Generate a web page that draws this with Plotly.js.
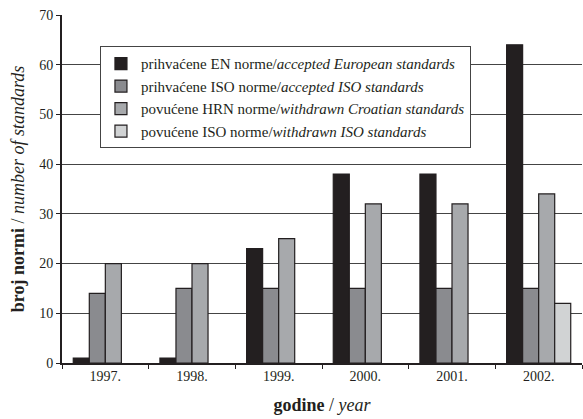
<!DOCTYPE html>
<html>
<head>
<meta charset="utf-8">
<script src="https://cdn.plot.ly/plotly-3.0.1.min.js"></script>
<style>html,body{margin:0;padding:0;background:#fff;}#chart{width:583px;height:419px;}</style>
</head>
<body>
<div id="chart"></div>
<script>
const years = ['1997.', '1998.', '1999.', '2000.', '2001.', '2002.'];
const acceptedEN = [1, 1, 23, 38, 38, 64];
const acceptedISO = [14, 15, 15, 15, 15, 15];
const withdrawnHRN = [20, 20, 25, 32, 32, 34];
const withdrawnISO = [0, 0, 0, 0, 0, 12];
const seriesNames = [
  'prihvaćene EN norme/<i>accepted European standards</i>',
  'prihvaćene ISO norme/<i>accepted ISO standards</i>',
  'povućene HRN norme/<i>withdrawn Croatian standards</i>',
  'povućene ISO norme/<i>withdrawn ISO standards</i>'
];
const seriesValues = [acceptedEN, acceptedISO, withdrawnHRN, withdrawnISO];
const colors = ['#231f20', '#8a8b8f', '#a7a9ac', '#d1d3d4'];

const traces = seriesValues.map((vals, i) => ({
  type: 'bar',
  x: years,
  y: vals.map(v => (v === 0 ? null : v)),
  name: seriesNames[i],
  marker: {color: colors[i], line: {color: '#231f20', width: 1.2}},
  hoverinfo: 'none'
}));

const font = '"Liberation Serif", "Times New Roman", serif';
const layout = {
  width: 583, height: 419,
  margin: {l: 62, r: 1, t: 15, b: 56},
  paper_bgcolor: '#fff', plot_bgcolor: '#fff',
  font: {family: font, size: 13, color: '#231f20'},
  barmode: 'group',
  bargap: 0.26,
  bargroupgap: 0,
  showlegend: true,
  legend: {
    x: 0.073, y: 0.91, xanchor: 'left', yanchor: 'top',
    bgcolor: '#fff', bordercolor: '#444', borderwidth: 1,
    font: {family: font, size: 15, color: '#231f20'},
    traceorder: 'normal', itemwidth: 30
  },
  xaxis: {
    type: 'category',
    tickson: 'boundaries',
    ticks: 'outside', ticklen: 4, tickcolor: '#231f20', tickwidth: 1,
    showgrid: false,
    showline: true, linecolor: '#231f20', linewidth: 1.5,
    tickfont: {family: font, size: 14},
    title: {text: '<b>godine</b> / <i>year</i>', font: {family: font, size: 18}, standoff: 15}
  },
  yaxis: {
    range: [0, 70],
    dtick: 10,
    ticks: 'outside', ticklen: 4, tickcolor: '#231f20', tickwidth: 1,
    showgrid: true, gridcolor: '#444', gridwidth: 1,
    showline: true, linecolor: '#231f20', linewidth: 2,
    zeroline: false,
    tickfont: {family: font, size: 14},
    title: {text: '<b>broj normi</b> / <i>number of standards</i>', font: {family: font, size: 18}, standoff: 10}
  }
};

Plotly.newPlot('chart', traces, layout, {displayModeBar: false, staticPlot: true});
</script>
</body>
</html>
